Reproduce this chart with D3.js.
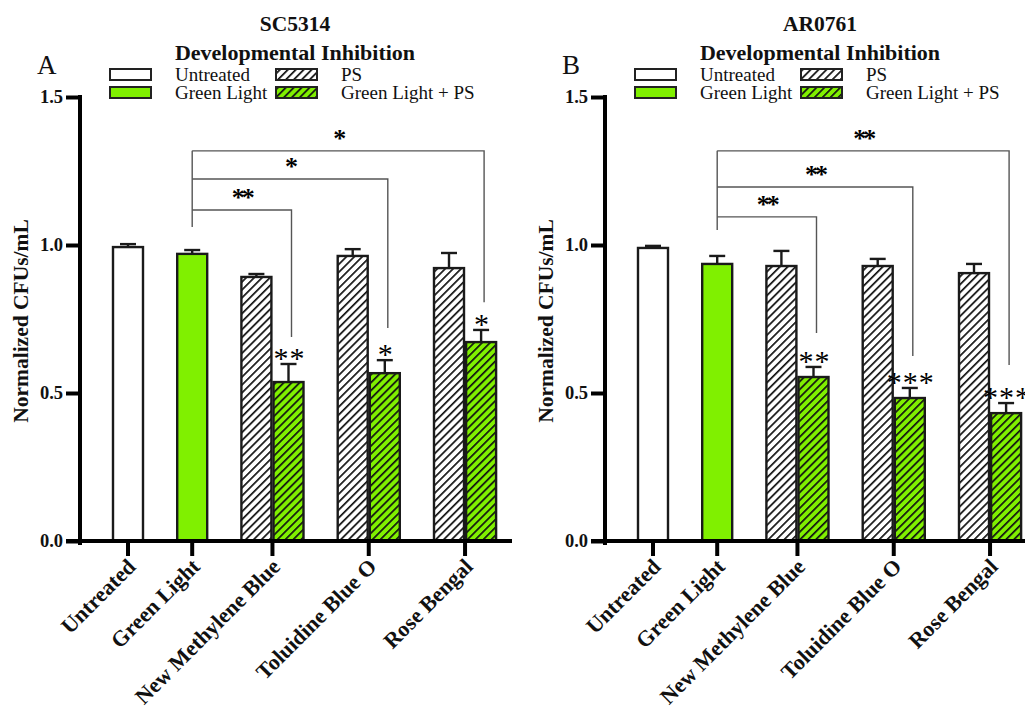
<!DOCTYPE html>
<html>
<head>
<meta charset="utf-8">
<script src="https://cdn.jsdelivr.net/npm/d3@7"></script>
<style>
  html, body { margin: 0; padding: 0; background: #fff; }
  svg { display: block; }
  text { font-family: "Palatino Linotype", "Book Antiqua", Palatino, "Liberation Serif", serif; fill: #111; }
</style>
</head>
<body>
<div id="chart"></div>
<script>
// Groups along the x axis and the bar conditions in the legend
const groups = ['Untreated', 'Green Light', 'New Methylene Blue', 'Toluidine Blue O', 'Rose Bengal'];
const conditions = ['Untreated', 'Green Light', 'PS', 'Green Light + PS'];
// which conditions appear in each group
const groupConds = [[0], [1], [2, 3], [2, 3], [2, 3]];
const yTicks = [0.0, 0.5, 1.0, 1.5];

// bar means / SEM in the order the bars are drawn (left to right)
const scMeans = [0.993, 0.970, 0.892, 0.537, 0.963, 0.567, 0.922, 0.672];
const scErr   = [0.010, 0.013, 0.010, 0.061, 0.023, 0.044, 0.051, 0.041];
const arMeans = [0.990, 0.936, 0.929, 0.554, 0.929, 0.483, 0.905, 0.432];
const arErr   = [0.007, 0.027, 0.051, 0.034, 0.024, 0.034, 0.031, 0.034];

// stars above the Green Light + PS bars
const scBarStars = ['**', '*', '*'];
const arBarStars = ['**', '***', '***'];

// brackets Green Light -> group: level, drop end, label
const scBrackets = [
  { group: 2, level: 1.118, end: 0.689, label: '**' },
  { group: 3, level: 1.223, end: 0.720, label: '*' },
  { group: 4, level: 1.318, end: 0.807, label: '*' }
];
const arBrackets = [
  { group: 2, level: 1.095, end: 0.703, label: '**' },
  { group: 3, level: 1.196, end: 0.625, label: '**' },
  { group: 4, level: 1.318, end: 0.595, label: '**' }
];
const scBracketStart = 1.061;
const arBracketStart = 1.051;

const GREEN = '#80f000';
const W = 1025, H = 714;

const svg = d3.select('#chart').append('svg')
  .attr('width', W).attr('height', H)
  .attr('viewBox', `0 0 ${W} ${H}`);

// hatch patterns
const defs = svg.append('defs');
[['hatch-white', '#fff'], ['hatch-green', GREEN]].forEach(([id, bg]) => {
  const p = defs.append('pattern')
    .attr('id', id)
    .attr('patternUnits', 'userSpaceOnUse')
    .attr('width', 5.6).attr('height', 5.6)
    .attr('patternTransform', 'rotate(45)');
  p.append('rect').attr('width', 5.6).attr('height', 5.6).attr('fill', bg);
  p.append('line')
    .attr('x1', 0).attr('y1', 0).attr('x2', 0).attr('y2', 5.6)
    .attr('stroke', '#111').attr('stroke-width', 3.4);
});

function condFill(c) {
  if (c === 0) return '#fff';
  if (c === 1) return GREEN;
  if (c === 2) return 'url(#hatch-white)';
  return 'url(#hatch-green)';
}

function drawPanel(opt) {
  const x0 = opt.x0;
  const g = svg.append('g');

  // build bar list with slot positions (one empty slot between groups)
  const bars = [];
  let slot = 0, k = 0;
  const groupCenters = [];
  groupConds.forEach((conds, gi) => {
    const first = slot;
    conds.forEach(c => {
      bars.push({ group: gi, cond: c, slot, mean: opt.means[k], err: opt.err[k] });
      slot++; k++;
    });
    groupCenters.push({ group: gi, first, last: slot - 1 });
    slot++;
  });

  const slotW = 32.1;
  const x = d3.scaleLinear().domain([0, 1]).range([x0 + 33, x0 + 33 + slotW]);
  const barW = 30;
  const y = d3.scaleLinear().domain([0, 1.5]).range([541, 97]);

  const bx = d => x(d.slot);
  const bc = d => x(d.slot) + barW / 2;
  const groupX = gc => (x(gc.first) + x(gc.last) + barW) / 2;

  // titles
  g.append('text')
    .attr('x', x0 + 215).attr('y', 31)
    .attr('text-anchor', 'middle')
    .attr('font-weight', 'bold').attr('font-size', 21.5)
    .text(opt.strain);
  g.append('text')
    .attr('x', x0 + 215).attr('y', 60)
    .attr('text-anchor', 'middle')
    .attr('font-weight', 'bold').attr('font-size', 22)
    .text('Developmental Inhibition');
  g.append('text')
    .attr('x', x0 - 43).attr('y', 74)
    .attr('font-size', 27)
    .text(opt.letter);

  // legend
  const legX = [x0 + 30, x0 + 196];
  const legY = [69, 87];
  conditions.forEach((c, i) => {
    const col = Math.floor(i / 2), row = i % 2;
    g.append('rect')
      .attr('x', legX[col]).attr('y', legY[row])
      .attr('width', 41).attr('height', 11)
      .attr('fill', condFill(i))
      .attr('stroke', '#222').attr('stroke-width', 2);
    g.append('text')
      .attr('x', legX[col] + 65).attr('y', legY[row] + 12)
      .attr('font-size', 19)
      .text(c);
  });

  // bars
  g.selectAll('rect.bar').data(bars).join('rect')
    .attr('class', 'bar')
    .attr('x', bx)
    .attr('y', d => y(d.mean))
    .attr('width', barW)
    .attr('height', d => y(0) - y(d.mean))
    .attr('fill', d => condFill(d.cond))
    .attr('stroke', '#1a1a1a').attr('stroke-width', 2.4);

  // error bars
  const eb = g.append('g').attr('stroke', '#1a1a1a').attr('stroke-width', 2.4);
  bars.forEach(d => {
    eb.append('line')
      .attr('x1', bc(d)).attr('x2', bc(d))
      .attr('y1', y(d.mean)).attr('y2', y(d.mean + d.err));
    eb.append('line')
      .attr('x1', bc(d) - 8).attr('x2', bc(d) + 8)
      .attr('y1', y(d.mean + d.err)).attr('y2', y(d.mean + d.err));
  });

  // stars above the Green Light + PS bars
  const glps = bars.filter(d => d.cond === 3);
  glps.forEach((d, i) => {
    g.append('text')
      .attr('x', bc(d) + 1).attr('y', y(d.mean + d.err) + 4)
      .attr('text-anchor', 'middle')
      .attr('font-family', 'DejaVu Sans')
      .attr('font-size', 30)
      .attr('letter-spacing', 1)
      .style('fill', '#000')
      .text(opt.barStars[i]);
  });

  // comparison brackets from Green Light
  const glBar = bars.find(d => d.cond === 1);
  const sx = bc(glBar);
  const br = g.append('g').attr('stroke', '#555').attr('stroke-width', 1.4).attr('fill', 'none');
  br.append('line')
    .attr('x1', sx).attr('x2', sx)
    .attr('y1', y(opt.bracketStart))
    .attr('y2', y(d3.max(opt.brackets, b => b.level)));
  opt.brackets.forEach(b => {
    const target = bars.find(d => d.group === b.group && d.cond === 3);
    const ex = bc(target) + 3;
    br.append('path')
      .attr('d', `M${sx},${y(b.level)}H${ex}V${y(b.end)}`);
    g.append('text')
      .attr('x', (sx + ex) / 2).attr('y', y(b.level) - 4)
      .attr('text-anchor', 'middle')
      .attr('font-family', 'DejaVu Sans')
      .attr('font-weight', 'bold')
      .attr('font-size', 26)
      .attr('letter-spacing', -3)
      .style('fill', '#000')
      .text(b.label);
  });

  // y axis
  const yAxis = g.append('g')
    .attr('transform', `translate(${x0},0)`)
    .call(d3.axisLeft(y).tickValues(yTicks).tickFormat(d3.format('.1f')).tickSize(14).tickPadding(3));
  yAxis.select('.domain').attr('stroke-width', 4).attr('stroke', '#000')
    .attr('d', `M0,${y(1.5) - 2}V${y(0) + 4}`);
  yAxis.selectAll('.tick line').attr('stroke-width', 4).attr('stroke', '#000');
  yAxis.selectAll('.tick text')
    .attr('font-family', null)
    .attr('font-size', 18.5).attr('font-weight', 'bold').style('fill', '#111');

  // x axis
  const xAxisG = g.append('g');
  xAxisG.append('line')
    .attr('x1', x0 - 14).attr('x2', x0 + 432)
    .attr('y1', y(0)).attr('y2', y(0))
    .attr('stroke', '#000').attr('stroke-width', 4);
  groupCenters.forEach(gc => {
    const tx = groupX(gc);
    xAxisG.append('line')
      .attr('x1', tx).attr('x2', tx)
      .attr('y1', y(0)).attr('y2', y(0) + 15)
      .attr('stroke', '#000').attr('stroke-width', 4);
    xAxisG.append('text')
      .attr('transform', `translate(${tx + 9},${y(0) + 27}) rotate(-45)`)
      .attr('text-anchor', 'end')
      .attr('font-size', 22).attr('font-weight', 'bold')
      .text(groups[gc.group]);
  });

  // y axis title
  g.append('text')
    .attr('transform', `translate(${x0 - 52},${(y(0) + y(1.5)) / 2 + 2}) rotate(-90)`)
    .attr('text-anchor', 'middle')
    .attr('font-size', 21.5).attr('font-weight', 'bold')
    .text('Normalized CFUs/mL');
}

drawPanel({ x0: 80, strain: 'SC5314', letter: 'A', means: scMeans, err: scErr,
  barStars: scBarStars, brackets: scBrackets, bracketStart: scBracketStart });
drawPanel({ x0: 605, strain: 'AR0761', letter: 'B', means: arMeans, err: arErr,
  barStars: arBarStars, brackets: arBrackets, bracketStart: arBracketStart });
</script>
</body>
</html>
